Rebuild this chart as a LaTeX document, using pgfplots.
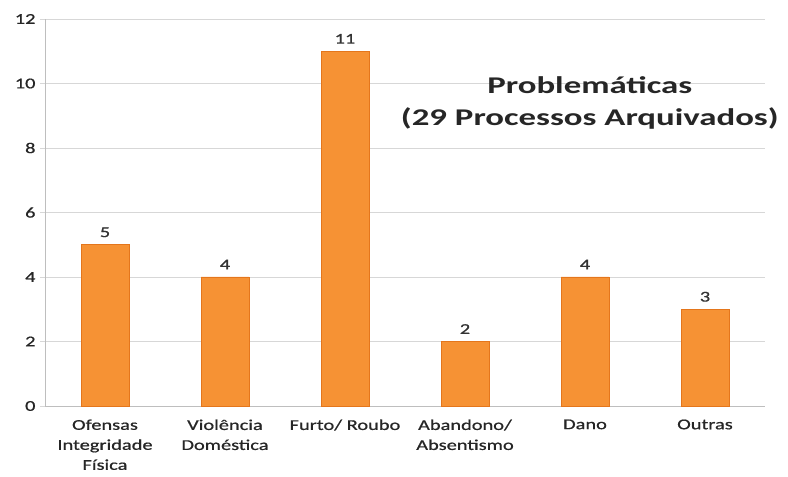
\documentclass[border=0pt]{standalone}
\usepackage{pgfplots}
\pgfplotsset{compat=1.18}
\usepackage{fontspec}
\setmainfont[FakeStretch=1.36,FakeBold=0.8]{Carlito}
\newfontfamily\titlefont[FakeStretch=1.45]{Carlito}
\definecolor{barmid}{RGB}{246,146,52}
\definecolor{baredge}{RGB}{228,118,28}
\definecolor{gridc}{RGB}{215,215,215}
\definecolor{axc}{RGB}{190,190,190}
\begin{document}
\begin{tikzpicture}
\path[use as bounding box] (0,0) rectangle (788bp,477bp);
\begin{axis}[
  at={(45bp,71bp)}, anchor=south west,
  scale only axis, width=720bp, height=387bp,
  xmin=-0.5, xmax=5.5, ymin=0, ymax=12,
  ytick={0,2,...,12},
  xtick={0,1,2,3,4,5},
  xticklabels={{Ofensas\\Integridade\\Física},{Violência\\Doméstica},{Furto/ Roubo},{Abandono/\\Absentismo},{Dano},{Outras}},
  x tick label style={align=center, font=\fontsize{15bp}{20bp}\selectfont, text=black!85, anchor=north, yshift=-5bp},
  y tick label style={font=\fontsize{15bp}{18bp}\selectfont, text=black!85, xshift=-1bp},
  /pgf/number format/assume math mode=true,
  major x tick style={draw=none},
  extra x ticks={0.5,1.5,2.5,3.5,4.5,5.5},
  extra x tick labels={},
  extra x tick style={tick align=outside, major tick length=5bp, tick style={draw=axc}, grid=none},
  ytick align=outside, major tick length=5bp,
  ymajorgrids, grid style={draw=gridc, line width=0.8pt},
  axis x line*=bottom, axis y line*=left,
  axis line style={draw=axc, line width=0.8pt},
  y axis line style={-}, x axis line style={-},
  ytick style={draw=gridc},
  ybar, bar width=48bp,
  nodes near coords,
  every node near coord/.append style={font=\fontsize{15bp}{18bp}\selectfont, text=black!80, yshift=4bp},
  clip=false,
]
\addplot[draw=baredge, line width=0.5pt, fill=barmid] coordinates {(0,5) (1,4) (2,11) (3,2) (4,4) (5,3)};
\node[font=\titlefont\bfseries\fontsize{24bp}{32bp}\selectfont, align=center, text=black!85] at (axis cs:4.04,9.4) {Problemáticas\\(29 Processos Arquivados)};
\end{axis}
\end{tikzpicture}
\end{document}
